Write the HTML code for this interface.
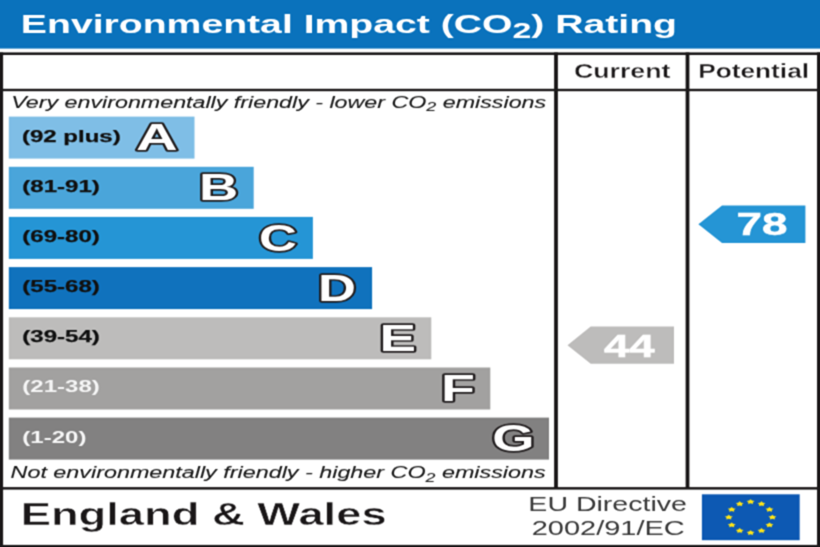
<!DOCTYPE html>
<html>
<head>
<meta charset="utf-8">
<title>Environmental Impact (CO2) Rating</title>
<style>
  html, body { margin: 0; padding: 0; background: #ffffff; }
  body { width: 820px; height: 547px; overflow: hidden; font-family: "Liberation Sans", sans-serif; }
  svg { display: block; }
  text { font-family: "Liberation Sans", sans-serif; }
</style>
</head>
<body>
<svg width="820" height="547" viewBox="0 0 820 547">
  <defs>
    <filter id="soft" x="0" y="0" width="100%" height="100%" filterUnits="objectBoundingBox" color-interpolation-filters="sRGB">
      <feConvolveMatrix order="7 1" kernelMatrix="-0.01087 -0.01818 0.20952 0.63906 0.20952 -0.01818 -0.01087" edgeMode="duplicate" preserveAlpha="true" result="h"/>
      <feConvolveMatrix in="h" order="1 7" kernelMatrix="-0.01087 -0.01818 0.20952 0.63906 0.20952 -0.01818 -0.01087" edgeMode="duplicate" preserveAlpha="true"/>
    </filter>
  </defs>
  <rect x="0" y="0" width="820" height="547" fill="#ffffff"/>
  <g filter="url(#soft)">
    <rect x="0" y="0" width="820" height="547" fill="#ffffff"/>

    <!-- header -->
    <rect x="0" y="0" width="820" height="48.6" fill="#0a72bc"/>
    <g font-weight="bold" fill="#ffffff">
      <text x="20.88" y="32.8" font-size="25.4" textLength="656.14" lengthAdjust="spacingAndGlyphs" >Environmental Impact (CO<tspan font-size="22" dy="5">2</tspan><tspan font-size="25.4" dy="-5">) Rating</tspan></text>
    </g>

    <!-- frame -->
    <g fill="#1c191a">
      <rect x="0" y="52.4" width="820" height="2.6"/>
      <rect x="0" y="88.8" width="820" height="2.4"/>
      <rect x="0" y="487.1" width="820" height="2.5"/>
      <rect x="0" y="544.9" width="820" height="3"/>
      <rect x="0" y="52.4" width="3.1" height="495"/>
      <rect x="817" y="52.4" width="3" height="495"/>
      <rect x="554.1" y="52.4" width="3.8" height="436"/>
      <rect x="685.6" y="52.4" width="3.8" height="436"/>
    </g>

    <!-- column headings -->
    <g font-weight="bold" fill="#1f1c1d" stroke="#ffffff" stroke-width="0.3">
      <text x="573.90" y="78" font-size="19.7" textLength="96.52" lengthAdjust="spacingAndGlyphs" >Current</text>
      <text x="698.24" y="78" font-size="19.7" textLength="110.81" lengthAdjust="spacingAndGlyphs" >Potential</text>
    </g>

    <!-- captions -->
    <g font-style="italic" fill="#1a1a1a" stroke="#1a1a1a" stroke-width="0.1">
      <text x="11.19" y="107.7" font-size="15.6" textLength="534.98" lengthAdjust="spacingAndGlyphs" >Very environmentally friendly - lower CO<tspan font-size="12" dy="3.2">2</tspan><tspan font-size="15.6" dy="-3.2"> emissions</tspan></text>
      <text x="10.58" y="478.3" font-size="15.8" textLength="535.10" lengthAdjust="spacingAndGlyphs" >Not environmentally friendly - higher CO<tspan font-size="12" dy="3.2">2</tspan><tspan font-size="15.8" dy="-3.2"> emissions</tspan></text>
    </g>

    <!-- bars -->
    <rect x="8.8" y="116.6" width="185.7" height="42.0" fill="#7fbee6"/>
    <rect x="8.8" y="166.8" width="244.9" height="42.0" fill="#4aa5da"/>
    <rect x="8.8" y="216.9" width="304.1" height="42.0" fill="#2595d5"/>
    <rect x="8.8" y="267.1" width="363.3" height="42.0" fill="#1072bd"/>
    <rect x="8.8" y="317.3" width="422.5" height="42.0" fill="#bdbcbb"/>
    <rect x="8.8" y="367.5" width="481.5" height="42.0" fill="#a2a1a0"/>
    <rect x="8.8" y="417.6" width="540.2" height="42.0" fill="#828181"/>

    <!-- range labels -->
    <g font-weight="bold" stroke-width="0.25">
      <text x="22.00" y="141.5" font-size="15.8" textLength="98.69" lengthAdjust="spacingAndGlyphs" fill="#111" stroke="#111">(92 plus)</text>
      <text x="22.30" y="191.7" font-size="15.8" textLength="77.49" lengthAdjust="spacingAndGlyphs" fill="#111" stroke="#111">(81-91)</text>
      <text x="22.30" y="241.8" font-size="15.8" textLength="77.49" lengthAdjust="spacingAndGlyphs" fill="#111" stroke="#111">(69-80)</text>
      <text x="22.30" y="292.0" font-size="15.8" textLength="77.49" lengthAdjust="spacingAndGlyphs" fill="#111" stroke="#111">(55-68)</text>
      <text x="22.30" y="342.2" font-size="15.8" textLength="77.49" lengthAdjust="spacingAndGlyphs" fill="#111" stroke="#111">(39-54)</text>
      <text x="22.30" y="392.4" font-size="15.8" textLength="77.49" lengthAdjust="spacingAndGlyphs" fill="#f4f4f4">(21-38)</text>
      <text x="22.30" y="442.5" font-size="15.8" textLength="64.09" lengthAdjust="spacingAndGlyphs" fill="#f4f4f4">(1-20)</text>
    </g>

    <!-- letters -->
    <g font-size="37" font-weight="bold" fill="#ffffff" stroke="#231f20" stroke-width="3.4" stroke-linejoin="round" paint-order="stroke" text-anchor="middle">
      <text transform="translate(156.8,150.2) scale(1.56,1)">A</text>
      <text transform="translate(218.6,200.4) scale(1.47,1)">B</text>
      <text transform="translate(278.0,250.5) scale(1.42,1)">C</text>
      <text transform="translate(336.9,300.7) scale(1.42,1)">D</text>
      <text transform="translate(397.8,350.9) scale(1.48,1)">E</text>
      <text transform="translate(457.9,401.1) scale(1.5,1)">F</text>
      <text transform="translate(513.5,451.2) scale(1.47,1)">G</text>
    </g>

    <!-- arrows -->
    <polygon points="567.5,345.2 590.7,326.5 674,326.5 674,363.8 590.7,363.8" fill="#bdbcbb"/>
    <polygon points="698.4,224.3 722,205.6 805.4,205.6 805.4,243.1 722,243.1" fill="#2595d5"/>
    <g font-weight="bold" fill="#ffffff" stroke="#ffffff" stroke-width="0.5">
      <text x="603.91" y="356.7" font-size="31.5" textLength="50.63" lengthAdjust="spacingAndGlyphs" >44</text>
      <text x="736.43" y="235.2" font-size="31.5" textLength="50.98" lengthAdjust="spacingAndGlyphs" >78</text>
    </g>

    <!-- footer -->
    <g font-weight="bold" fill="#1c191a" stroke="#ffffff" stroke-width="0.45">
      <text x="20.68" y="525.2" font-size="31" textLength="365.97" lengthAdjust="spacingAndGlyphs" >England &amp; Wales</text>
    </g>
    <g fill="#3a3a3a">
      <text x="528.36" y="510.6" font-size="19.4" textLength="158.51" lengthAdjust="spacingAndGlyphs" >EU Directive</text>
      <text x="531.74" y="535" font-size="19.4" textLength="153.06" lengthAdjust="spacingAndGlyphs" >2002/91/EC</text>
    </g>

    <!-- EU flag -->
    <rect x="701.9" y="494.3" width="97.8" height="45.9" fill="#0d59b3"/>
    <g fill="#fbe31a">
      <polygon points="750.60,499.20 752.01,500.59 754.56,501.00 752.88,502.26 753.05,503.90 750.60,503.30 748.15,503.90 748.32,502.26 746.64,501.00 749.19,500.59"/>
      <polygon points="761.50,501.28 762.91,502.66 765.46,503.07 763.78,504.34 763.95,505.98 761.50,505.38 759.05,505.98 759.22,504.34 757.54,503.07 760.09,502.66"/>
      <polygon points="769.48,506.95 770.89,508.34 773.44,508.75 771.76,510.01 771.92,511.65 769.48,511.05 767.03,511.65 767.20,510.01 765.52,508.75 768.07,508.34"/>
      <polygon points="772.40,514.70 773.81,516.09 776.36,516.50 774.68,517.76 774.85,519.40 772.40,518.80 769.95,519.40 770.12,517.76 768.44,516.50 770.99,516.09"/>
      <polygon points="769.48,522.45 770.89,523.84 773.44,524.25 771.76,525.51 771.92,527.15 769.48,526.55 767.03,527.15 767.20,525.51 765.52,524.25 768.07,523.84"/>
      <polygon points="761.50,528.12 762.91,529.51 765.46,529.92 763.78,531.19 763.95,532.83 761.50,532.22 759.05,532.83 759.22,531.19 757.54,529.92 760.09,529.51"/>
      <polygon points="750.60,530.20 752.01,531.59 754.56,532.00 752.88,533.26 753.05,534.90 750.60,534.30 748.15,534.90 748.32,533.26 746.64,532.00 749.19,531.59"/>
      <polygon points="739.70,528.12 741.11,529.51 743.66,529.92 741.98,531.19 742.15,532.83 739.70,532.22 737.25,532.83 737.42,531.19 735.74,529.92 738.29,529.51"/>
      <polygon points="731.72,522.45 733.13,523.84 735.68,524.25 734.00,525.51 734.17,527.15 731.72,526.55 729.28,527.15 729.44,525.51 727.76,524.25 730.31,523.84"/>
      <polygon points="728.80,514.70 730.21,516.09 732.76,516.50 731.08,517.76 731.25,519.40 728.80,518.80 726.35,519.40 726.52,517.76 724.84,516.50 727.39,516.09"/>
      <polygon points="731.72,506.95 733.13,508.34 735.68,508.75 734.00,510.01 734.17,511.65 731.72,511.05 729.28,511.65 729.44,510.01 727.76,508.75 730.31,508.34"/>
      <polygon points="739.70,501.28 741.11,502.66 743.66,503.07 741.98,504.34 742.15,505.98 739.70,505.38 737.25,505.98 737.42,504.34 735.74,503.07 738.29,502.66"/>
    </g>
  </g>
</svg>
</body>
</html>
